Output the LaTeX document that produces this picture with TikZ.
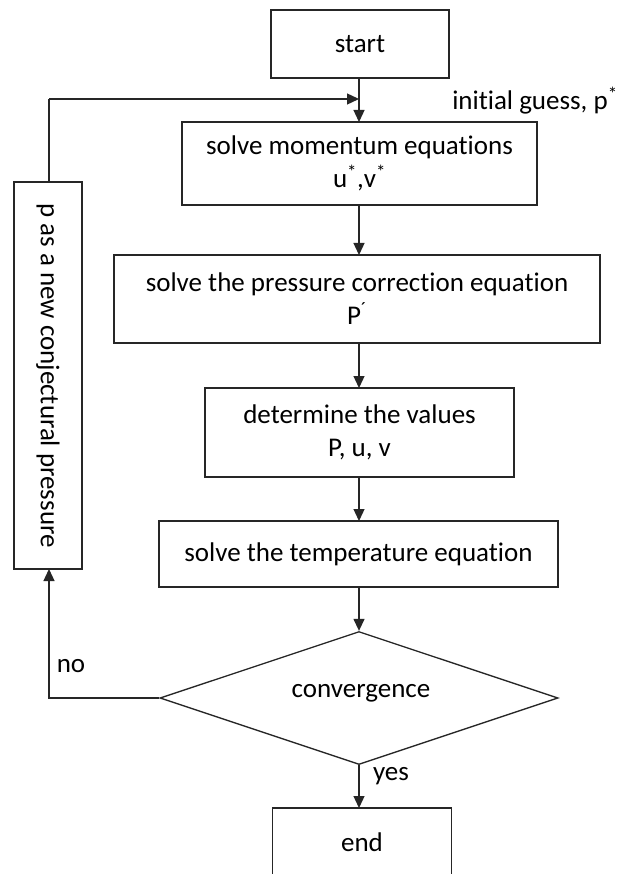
\documentclass[tikz,border=0pt]{standalone}
\usepackage{fontspec}
\setmainfont{Carlito}[Ligatures=NoCommon]
\usetikzlibrary{arrows.meta,shapes.geometric,calc}
\begin{document}
\begin{tikzpicture}[x=1pt,y=-1pt,
  every node/.style={font=\fontsize{27}{33}\selectfont, text=black},
  box/.style={draw=black!85, line width=1.3pt, rectangle, align=center, inner sep=0pt},
  dia/.style={draw=black!85, line width=1.3pt, diamond, aspect=3, inner sep=0pt},
  arr/.style={draw=black!85, line width=1.3pt, -{Triangle[length=12pt,width=11pt]}},
  ln/.style={draw=black!85, line width=1.3pt}]
\clip (0,0) rectangle (622,874);
\fill[white] (0,0) rectangle (622,874);
\node[box, minimum width=178pt, minimum height=68pt] (start) at (360,44) {start};
\node[box, minimum width=355pt, minimum height=83pt] (mom) at (359.5,163.5) {solve momentum equations\\u\textsuperscript{*},v\textsuperscript{*}};
\node[box, minimum width=486pt, minimum height=88pt] (press) at (357,299) {solve the pressure correction equation\\P\textsuperscript{´}};
\node[box, minimum width=309pt, minimum height=89pt] (det) at (359.5,432.5) {determine the values\\P, u, v};
\node[box, minimum width=399pt, minimum height=66pt] (temp) at (358.5,554) {solve the temperature equation};
\node[dia, minimum width=398pt, minimum height=133pt] (conv) at (359,698) {};
\node (convtxt) at (361,693) {convergence};
\node[box, minimum width=179pt, minimum height=68pt] (end) at (362,842) {end};
\node[box, rotate=-90, minimum width=387pt, minimum height=68pt] (left) at (48,375.5) {p as a new conjectural pressure};
\coordinate (j) at (359,99);
\coordinate (ltop) at (49,99);
\draw[arr] (359,78) -- (359,122);
\draw[arr] (359,205) -- (359,255);
\draw[arr] (359,343) -- (359,388);
\draw[arr] (359,477) -- (359,521);
\draw[arr] (359,587) -- (conv.north);
\draw[arr] (conv.south) -- (359,808);
\draw[arr] (conv.west) -| (49,569);
\draw[ln] (49,182) -- (ltop);
\draw[arr] (ltop) -- (j);
\node (no) at (71,666) {no};
\node (yes) at (391,776) {yes};
\node (guess) at (535,101) {initial guess, p\textsuperscript{*}};
\end{tikzpicture}
\end{document}
